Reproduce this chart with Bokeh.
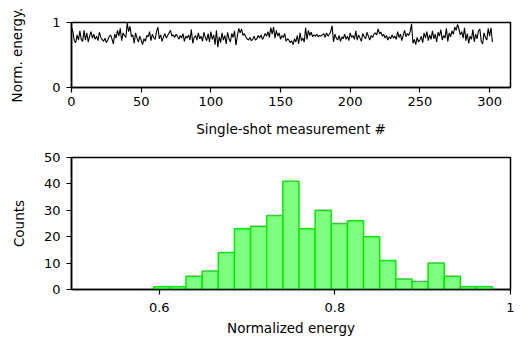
from bokeh.plotting import figure
from bokeh.layouts import column
from bokeh.models import Range1d, FixedTicker
from bokeh.embed import file_html
from bokeh.resources import INLINE
import numpy as np

# ---- data ----
energy = [
    0.93, 0.86, 0.72, 0.69, 0.81, 0.73, 0.87, 0.74, 0.71, 0.88,
    0.73, 0.84, 0.70, 0.79, 0.86, 0.76, 0.82, 0.74, 0.79, 0.72,
    0.85, 0.77, 0.74, 0.71, 0.76, 0.69, 0.73, 0.78, 0.81, 0.75,
    0.67, 0.82, 0.76, 0.88, 0.79, 0.91, 0.72, 0.84, 0.80, 0.77,
    0.99, 0.86, 0.94, 0.78, 0.81, 0.68, 0.84, 0.76, 0.70, 0.79,
    0.73, 0.66, 0.75, 0.71, 0.80, 0.78, 0.86, 0.72, 0.82, 0.77,
    0.74, 0.86, 0.93, 0.75, 0.81, 0.71, 0.78, 0.83, 0.76, 0.80,
    0.84, 0.88, 0.79, 0.81, 0.77, 0.82, 0.79, 0.74, 0.80, 0.76,
    0.83, 0.71, 0.79, 0.76, 0.81, 0.73, 0.89, 0.68, 0.77, 0.80,
    0.73, 0.84, 0.75, 0.79, 0.71, 0.85, 0.77, 0.72, 0.83, 0.70,
    0.86, 0.74, 0.81, 0.66, 0.88, 0.62, 0.78, 0.69, 0.84, 0.73,
    0.80, 0.67, 0.85, 0.75, 0.70, 0.83, 0.77, 0.87, 0.65, 0.79,
    0.91, 0.84, 0.90, 0.80, 0.83, 0.78, 0.75, 0.73, 0.77, 0.72,
    0.74, 0.79, 0.73, 0.75, 0.80, 0.76, 0.81, 0.74, 0.78, 0.83,
    0.79, 0.86, 0.77, 0.92, 0.82, 0.93, 0.76, 0.88, 0.79, 0.84,
    0.74, 0.80, 0.77, 0.83, 0.71, 0.75, 0.73, 0.69, 0.72, 0.66,
    0.75, 0.70, 0.80, 0.67, 0.84, 0.72, 0.76, 0.70, 0.92, 0.74,
    0.88, 0.80, 0.85, 0.78, 0.81, 0.79, 0.82, 0.78, 0.80, 0.79,
    0.81, 0.83, 0.77, 0.84, 0.79, 0.82, 0.86, 0.95, 0.70, 0.82,
    0.76, 0.73, 0.80, 0.71, 0.78, 0.75, 0.82, 0.74, 0.79, 0.72,
    0.84, 0.77, 0.80, 0.74, 0.87, 0.73, 0.81, 0.76, 0.71, 0.83,
    0.78, 0.75, 0.85, 0.79, 0.73, 0.80, 0.77, 0.82, 0.84, 0.81,
    0.90, 0.83, 0.85, 0.79, 0.82, 0.76, 0.80, 0.73, 0.78, 0.75,
    0.81, 0.76, 0.79, 0.74, 0.86, 0.77, 0.82, 0.72, 0.80, 0.88,
    0.78, 0.83, 0.80, 0.86, 0.98, 0.68, 0.74, 0.66, 0.77, 0.70,
    0.73, 0.79, 0.69, 0.84, 0.76, 0.86, 0.72, 0.81, 0.74, 0.87,
    0.75, 0.82, 0.70, 0.85, 0.79, 0.89, 0.73, 0.80, 0.76, 0.91,
    0.71, 0.84, 0.78, 0.87, 0.82, 0.93, 0.88, 0.97, 0.90, 0.81,
    0.86, 0.76, 0.92, 0.72, 0.83, 0.68, 0.79, 0.74, 0.89, 0.70,
    0.82, 0.75, 0.87, 0.90, 0.71, 0.67, 0.84, 0.77, 0.73, 0.91,
    0.79, 0.92, 0.70,
]
hist_counts = [1, 1, 5, 7, 14, 23, 24, 28, 41, 23, 30, 25, 26, 20, 11, 4, 3, 10, 5, 1, 1]
hist_start = 0.5937
hist_bin_width = 0.01838

top_xticks = [0, 50, 100, 150, 200, 250, 300]
top_yticks = [0, 1]
bot_xticks = [0.6, 0.8, 1.0]
bot_xlabels = {0.6: "0.6", 0.8: "0.8", 1: "1"}
bot_yticks = [0, 10, 20, 30, 40, 50]

FONT = "DejaVu Sans"
TICK_SIZE = "13px"
LABEL_SIZE = "13.5px"


def style_axes(p):
    p.grid.visible = False
    p.outline_line_color = "black"
    p.outline_line_width = 1.5
    p.background_fill_color = "white"
    p.border_fill_color = "white"
    for ax in p.axis:
        ax.axis_line_color = "black"
        ax.axis_line_width = 1.5
        ax.major_tick_line_color = "black"
        ax.major_tick_line_width = 1.2
        ax.major_tick_in = 0
        ax.major_tick_out = 5
        ax.minor_tick_line_color = None
        ax.major_label_text_font = FONT
        ax.major_label_text_font_size = TICK_SIZE
        ax.major_label_text_color = "black"
        ax.axis_label_text_font = FONT
        ax.axis_label_text_font_size = LABEL_SIZE
        ax.axis_label_text_font_style = "normal"
        ax.axis_label_text_color = "black"


# ---- top: time series ----
top = figure(width=514, height=145, x_range=Range1d(0, 315), y_range=Range1d(0, 1),
             output_backend="svg", toolbar_location=None,
             min_border_left=63, min_border_right=4, min_border_top=22, min_border_bottom=58)
shot = np.arange(len(energy))
top.line(shot, energy, line_color="black", line_width=1.1)
style_axes(top)
top.xaxis.ticker = FixedTicker(ticks=top_xticks)
top.yaxis.ticker = FixedTicker(ticks=top_yticks)
top.xaxis.axis_label = "Single-shot measurement #"
top.yaxis.axis_label = "Norm. energy."
top.xaxis.major_label_standoff = 4
top.xaxis.axis_label_standoff = 12
top.yaxis.major_label_standoff = 6
top.yaxis.axis_label_standoff = 24

# ---- bottom: histogram ----
bot = figure(width=514, height=193, x_range=Range1d(0.5, 1.0), y_range=Range1d(0, 50),
             output_backend="svg", toolbar_location=None,
             min_border_left=71, min_border_right=4, min_border_top=12, min_border_bottom=49)
edges = hist_start + hist_bin_width * np.arange(len(hist_counts) + 1)
bot.quad(left=edges[:-1], right=edges[1:], bottom=0, top=hist_counts,
         fill_color="#80ff80", line_color="#00ee00", line_width=1.5)
style_axes(bot)
bot.xaxis.ticker = FixedTicker(ticks=bot_xticks)
bot.xaxis.major_label_overrides = bot_xlabels
bot.yaxis.ticker = FixedTicker(ticks=bot_yticks)
bot.xaxis.axis_label = "Normalized energy"
bot.yaxis.axis_label = "Counts"
bot.xaxis.major_label_standoff = 8
bot.xaxis.axis_label_standoff = 5
bot.yaxis.major_label_standoff = 6
bot.yaxis.axis_label_standoff = 14

layout = column(top, bot, spacing=0)
open("out.html", "w").write(file_html(layout, INLINE))
